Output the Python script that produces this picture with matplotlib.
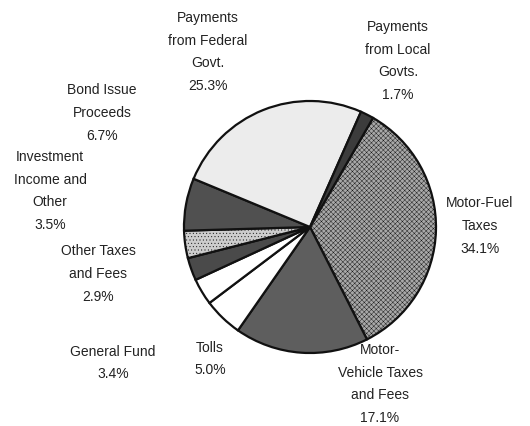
import matplotlib
matplotlib.use('Agg')
import matplotlib.pyplot as plt

# revenue sources, clockwise from the top right
sources = ['Motor-Fuel\nTaxes', 'Motor-\nVehicle Taxes\nand Fees', 'Tolls', 'General Fund',
           'Other Taxes\nand Fees', 'Investment\nIncome and\nOther', 'Bond Issue\nProceeds',
           'Payments\nfrom Federal\nGovt.', 'Payments\nfrom Local\nGovts.']
shares = [34.1, 17.1, 5.0, 3.4, 2.9, 3.5, 6.7, 25.3, 1.7]

fills = ['#a8a8a8', '#5e5e5e', '#ffffff', '#ffffff', '#4a4a4a',
         '#cdcdcd', '#505050', '#ececec', '#3c3c3c']
# label block centres in pixel units (x, y from top)
label_pos = [(480, 226), (380, 384), (210, 359), (113, 363), (98, 274),
             (50, 191), (102, 113), (208, 52), (398, 61)]

W, H = 530, 427
plt.rcParams['font.family'] = ['Liberation Sans', 'DejaVu Sans']
plt.rcParams['hatch.linewidth'] = 0.3
plt.rcParams['hatch.color'] = '#8a8a8a'

fig = plt.figure(figsize=(W / 100, H / 100), dpi=100)
ax = fig.add_axes([0, 0, 1, 1])

wedges, _ = ax.pie(shares, colors=fills, startangle=60, counterclock=False,
                   center=(310, H - 228), radius=126,
                   wedgeprops=dict(edgecolor='#111111', linewidth=1.6))
# stippled greys
wedges[0].set_hatch('xxxxxxx')
wedges[5].set_hatch('.....')

ax.set_xlim(0, W)
ax.set_ylim(0, H)
ax.set_aspect('equal')
ax.axis('off')

for name, val, (x, y) in zip(sources, shares, label_pos):
    ax.text(x, H - y, f'{name}\n{val:.1f}%', ha='center', va='center',
            multialignment='center', fontsize=10, linespacing=1.8, color='#222222')

fig.savefig('out.png', dpi=100)
